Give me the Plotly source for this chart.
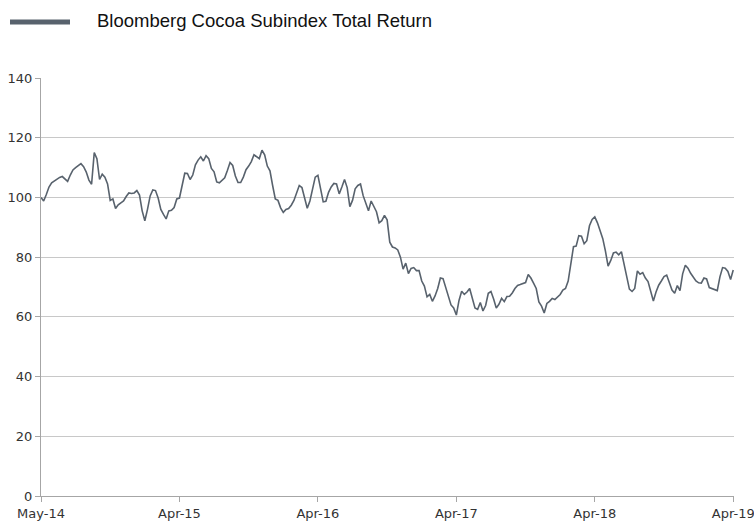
import pandas as pd
import plotly.graph_objects as go

series_name = "Bloomberg Cocoa Subindex Total Return"
start_date = "2014-05-01"
values = [
    100, 98.8, 101, 103.5, 104.9, 105.6, 106, 106.7, 107, 106.1,
    105.4, 107.5, 109.2, 110, 110.8, 111.3, 110.3, 108.5, 105.8, 104.4,
    115, 113, 106, 107.8, 106.8, 104.5, 99, 99.5, 96.3, 97.5,
    98.2, 98.8, 100.3, 101.5, 101.3, 101.5, 102.3, 100.8, 95.5, 92.2,
    96, 100.5, 102.5, 102.3, 99.8, 96, 94.3, 92.8, 95.5, 95.7,
    96.6, 99.5, 99.8, 103.7, 108.1, 108, 106, 107.5, 110.9, 112.5,
    113.6, 112.2, 114, 113, 109.7, 108.6, 105.2, 104.9, 105.9, 106.6,
    109, 111.7, 110.7, 107.2, 105, 105, 106.8, 109.3, 110.5, 112,
    114.3, 113.5, 113, 115.8, 114.3, 110.5, 108.9, 104, 99.5, 99,
    96.5, 95, 96, 96.3, 97.4, 99, 101.6, 104, 103.3, 99.5,
    96.4, 98.8, 103.2, 106.8, 107.4, 103, 98.5, 98.7, 101.7, 103.5,
    104.7, 104.5, 101.2, 103.5, 106, 103.3, 96.9, 99, 102.9, 104,
    104.5, 100.6, 98.3, 95.5, 98.8, 97, 95.2, 91.5, 92.2, 94,
    92.5, 85, 83.4, 83.1, 82.4, 80, 76, 78, 74.5, 76.2,
    76.5, 75.5, 75.5, 72, 70.3, 66.7, 67.5, 65.2, 67, 69.5,
    73, 72.8, 69.8, 66.8, 64, 63, 60.6, 65.5, 68.6, 67.5,
    68.3, 69.5, 66.5, 63, 62.5, 64.8, 62, 63.8, 67.9, 68.5,
    66, 63, 64.2, 66.2, 65.1, 66.8, 66.9, 68, 69.5, 70.5,
    70.8, 71.2, 71.5, 74.2, 73, 71.3, 69.5, 65, 63.6, 61.3,
    64.5, 65.2, 66.2, 65.8, 66.6, 67.5, 69, 69.5, 72, 78,
    83.5, 83.7, 87.2, 87, 84.5, 85.5, 90.5, 92.6, 93.5, 91.5,
    88.5, 86.2, 82, 77, 78.9, 81.4, 81.7, 80.8, 81.8, 77.2,
    73.6, 69.3, 68.5, 69.5, 75.4, 74.3, 74.8, 73, 71.8, 68.3,
    65.3, 68.3, 70.6, 72, 73.5, 74, 71.1, 69, 67.9, 70.5,
    68.8, 74.4, 77.3, 76.3, 74.6, 73.4, 72, 71.4, 71.3, 73,
    72.7, 69.8, 69.4, 69, 68.8, 73.4, 76.5, 76.3, 75.2, 72.5, 75.7,
]
tick_labels = ["May-14", "Apr-15", "Apr-16", "Apr-17", "Apr-18", "Apr-19"]
y_ticks = [0, 20, 40, 60, 80, 100, 120, 140]

dates = pd.date_range(start_date, periods=len(values), freq="7D")
tick_dates = list(dates[::52])

W, H = 754, 521
L, R, T, B = 41, 20, 78, 25
LINE_COLOR = "#58626d"


def px_x(px):
    return (px - L) / (W - L - R)


def px_y(py):
    return (H - B - py) / (H - T - B)


fig = go.Figure()
fig.add_trace(go.Scatter(
    x=dates, y=values, mode="lines", name=series_name,
    line=dict(color=LINE_COLOR, width=1.6), showlegend=False,
))

# legend drawn as a sample line + label
fig.add_shape(type="line", xref="paper", yref="paper",
              x0=px_x(10), x1=px_x(70), y0=px_y(22), y1=px_y(22),
              line=dict(color=LINE_COLOR, width=5))
fig.add_annotation(xref="paper", yref="paper", x=px_x(95), y=px_y(21),
                   text=series_name, showarrow=False, xanchor="left",
                   yanchor="middle",
                   font=dict(family="Liberation Sans, Arial", size=18.5,
                             color="#111111"))

fig.update_layout(
    width=W, height=H, autosize=False,
    margin=dict(l=L, r=R, t=T, b=B, pad=0),
    plot_bgcolor="white", paper_bgcolor="white",
    font=dict(family="DejaVu Sans, Verdana", size=13, color="#333333"),
)
fig.update_xaxes(
    range=[dates[0], dates[-1] + pd.Timedelta(days=2)],
    tickvals=tick_dates, ticktext=tick_labels, automargin=False,
    ticklabeloverflow="allow",
    showgrid=False, showline=True, linecolor="#a6a6a6", linewidth=1,
    ticks="outside", ticklen=5, tickcolor="#a6a6a6", zeroline=False,
)
fig.update_yaxes(
    range=[0, 140], tickvals=y_ticks, showgrid=True, gridcolor="#c8c8c8",
    gridwidth=1, showline=True, linecolor="#a6a6a6", linewidth=1,
    ticks="outside", ticklen=5, tickcolor="#a6a6a6", zeroline=False,
    automargin=False, ticklabeloverflow="allow",
)

fig.write_html("out.html")
